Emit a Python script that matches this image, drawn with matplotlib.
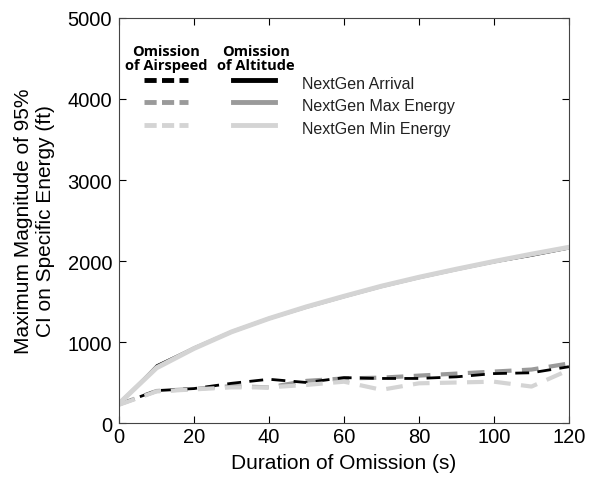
import matplotlib.pyplot as plt
from matplotlib.lines import Line2D

plt.rcParams["font.family"] = ["Liberation Sans", "DejaVu Sans"]

duration = [0, 10, 20, 30, 40, 50, 60, 70, 80, 90, 100, 110, 120]

# omission of altitude (solid)
alt_arrival = [240, 715, 935, 1130, 1290, 1430, 1560, 1680, 1790, 1890, 1980, 2060, 2150]
alt_max = [240, 690, 925, 1125, 1290, 1430, 1560, 1685, 1795, 1895, 1990, 2080, 2165]
alt_min = [240, 680, 920, 1125, 1290, 1435, 1565, 1690, 1800, 1900, 1995, 2085, 2170]

# omission of airspeed (dashed)
spd_arrival = [230, 400, 425, 490, 540, 500, 560, 550, 550, 570, 610, 620, 695]
spd_max = [230, 395, 420, 455, 440, 520, 550, 560, 585, 610, 635, 660, 735]
spd_min = [225, 390, 415, 440, 440, 470, 510, 410, 490, 500, 510, 450, 655]

labels = ["NextGen Arrival", "NextGen Max Energy", "NextGen Min Energy"]
colors = ["black", "#9a9a9a", "#d4d4d4"]

fig = plt.figure(figsize=(5.9, 4.81), dpi=100)
ax = fig.add_axes([0.2017, 0.1185, 0.7627, 0.842])

ax.plot(duration, spd_max, color=colors[1], lw=3, dashes=(4, 2.5))
ax.plot(duration, spd_arrival, color=colors[0], lw=2, dashes=(5, 3))
ax.plot(duration, spd_min, color=colors[2], lw=3, dashes=(4, 2.5))

ax.plot(duration, alt_arrival, color=colors[0], lw=1)
ax.plot(duration, alt_max, color=colors[1], lw=2.5)
ax.plot(duration, alt_min, color=colors[2], lw=3.5)

ax.set_xlim(0, 120)
ax.set_ylim(0, 5000)
ax.set_xticks(range(0, 121, 20))
ax.set_yticks(range(0, 5001, 1000))
ax.tick_params(direction="in", top=True, right=True, labelsize=14.5, length=5, width=0.8)
ax.tick_params(axis="x", pad=3)
ax.tick_params(axis="y", pad=5)
for s in ax.spines.values():
    s.set_color("#444444")
    s.set_linewidth(0.8)
ax.set_xlabel("Duration of Omission (s)", fontsize=15, labelpad=5)
ax.set_ylabel("Maximum Magnitude of 95%\nCI on Specific Energy (ft)", fontsize=15, labelpad=9)

# custom legend
hdr = dict(fontsize=10.5, fontweight="bold", family="Open Sans", ha="center", va="center",
           transform=fig.transFigure, linespacing=1.05)
fig.text(166 / 590, 1 - 59 / 481, "Omission\nof Airspeed", **hdr)
fig.text(256 / 590, 1 - 59 / 481, "Omission\nof Altitude", **hdr)
rows = [81, 103, 126]
for lab, c, y in zip(labels, colors, rows):
    yf = 1 - y / 481
    fig.add_artist(Line2D([144 / 590, 188 / 590], [yf, yf], color=c, lw=3.5, dashes=(2.5, 1.1)))
    fig.add_artist(Line2D([233 / 590, 275 / 590], [yf, yf], color=c, lw=3.5))
    fig.text(302 / 590, yf - 0.008, lab, fontsize=11.5, va="center", color="#222222")

fig.savefig("out.png", dpi=100)
